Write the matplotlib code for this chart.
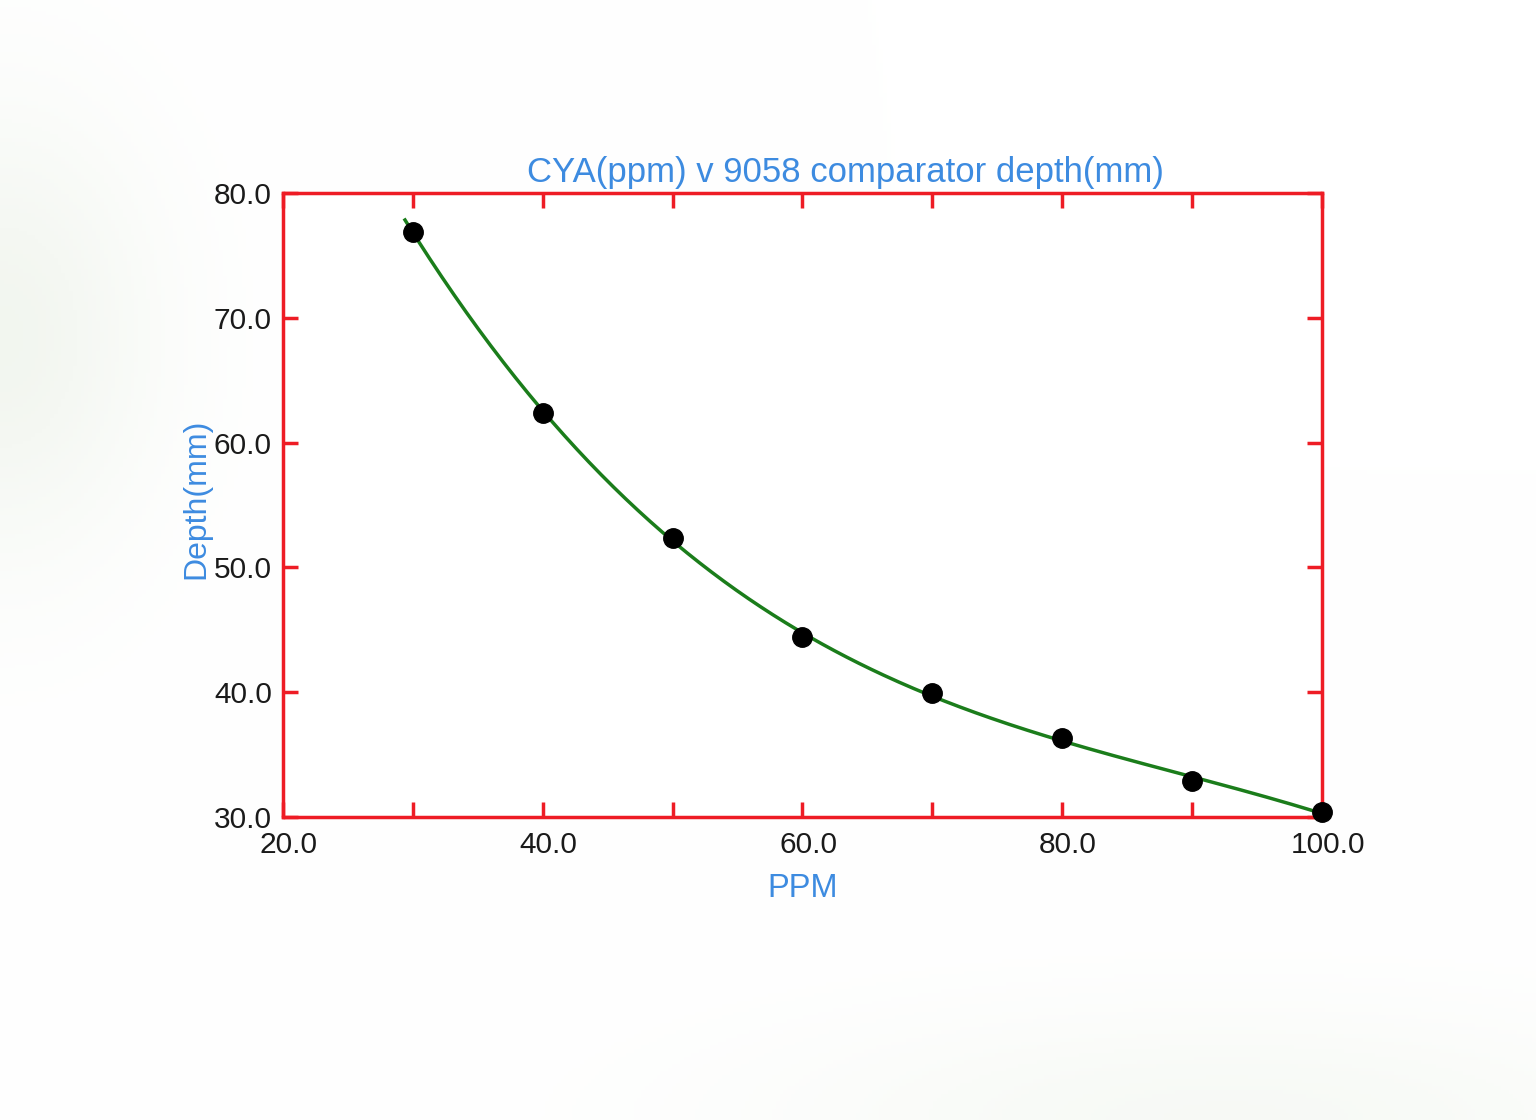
import numpy as np
import matplotlib
matplotlib.use("Agg")
import matplotlib.pyplot as plt
import matplotlib.transforms as mtransforms

# data
ppm = [30, 40, 50, 60, 70, 80, 90, 100]
depth = [76.9, 62.4, 52.4, 44.4, 39.9, 36.3, 32.9, 30.4]

x_ticks = [20, 30, 40, 50, 60, 70, 80, 90, 100]
x_labels = ["20.0", "", "40.0", "", "60.0", "", "80.0", "", "100.0"]
y_ticks = [30, 40, 50, 60, 70, 80]
y_labels = ["30.0", "40.0", "50.0", "60.0", "70.0", "80.0"]

plt.rcParams['font.family'] = ['Liberation Sans', 'DejaVu Sans']

red = "#ee1c25"
blue = "#3d8be0"
green = "#1b7d1b"

fig = plt.figure(figsize=(15.36, 11.2), dpi=100)

# faint background shading (row 0 = top of the figure)
bg = fig.add_axes([0, 0, 1, 1], zorder=-10)
yy, xx = np.mgrid[0:1:300j, 0:1:400j]
shade = np.exp(-(((xx - 0.0) / 0.1) ** 2 + ((yy - 0.3) / 0.2) ** 2))
shade += 0.6 * np.exp(-(((xx - 0.8) / 0.3) ** 2 + ((yy - 1.0) / 0.1) ** 2))
rgb = np.ones((300, 400, 3))
rgb[..., 0] -= 0.05 * shade
rgb[..., 1] -= 0.035 * shade
rgb[..., 2] -= 0.06 * shade
bg.imshow(np.clip(rgb, 0, 1), extent=[0, 1, 0, 1], aspect='auto', origin='upper')
bg.axis('off')

ax = fig.add_axes([0.1842, 0.2705, 0.6764, 0.5571])
ax.set_facecolor('white')

# fitted curve
coef = np.polyfit(ppm, depth, 3)
xs = np.linspace(29.4, 100, 300)
ax.plot(xs, np.polyval(coef, xs), color=green, lw=2.5, zorder=2)
ax.plot(ppm, depth, 'o', color='black', markersize=14, zorder=3, clip_on=False)

ax.set_xlim(20, 100)
ax.set_ylim(30, 80)
ax.set_xticks(x_ticks)
ax.set_xticklabels(x_labels)
ax.set_yticks(y_ticks)
ax.set_yticklabels(y_labels)

for s in ax.spines.values():
    s.set_color(red)
    s.set_linewidth(2.5)
ax.tick_params(direction='in', length=10.5, width=2.5, color=red,
               top=True, right=True, labelsize=21.5, labelcolor='#1a1a1a')
ax.tick_params(axis='x', pad=10)
ax.tick_params(axis='y', pad=8)

offset = mtransforms.ScaledTranslation(6 / 100, 0, fig.dpi_scale_trans)
for lbl in ax.get_xticklabels():
    lbl.set_transform(lbl.get_transform() + offset)

ax.set_title("CYA(ppm) v 9058 comparator depth(mm)", color=blue, fontsize=25,
             x=0.541, pad=8)
ax.set_xlabel("PPM", color=blue, fontsize=23.5, labelpad=10)
ax.set_ylabel("Depth(mm)", color=blue, fontsize=23, labelpad=2)
ax.yaxis.set_label_coords(-0.069, 0.51)

fig.savefig("out.png", dpi=100)
